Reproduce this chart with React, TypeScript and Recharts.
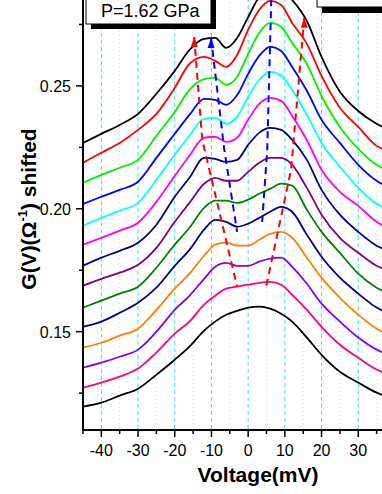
import { LineChart, Line, XAxis, YAxis, CartesianGrid } from "recharts";

const voltage = [-45, -40, -35, -30, -25, -20, -16, -12, -9, -6, -3, 0, 3, 6, 9, 12, 16, 20, 25, 30, 35, 40, 45];

// G(V) curves, shifted, listed from top to bottom
const curve01 = [0.2268, 0.2305, 0.2341, 0.2386, 0.2468, 0.2561, 0.2646, 0.2691, 0.2695, 0.2655, 0.2695, 0.278, 0.2862, 0.2898, 0.2894, 0.285, 0.2764, 0.2618, 0.2476, 0.2398, 0.2346, 0.2313, 0.2289];
const curve02 = [0.2187, 0.2228, 0.2268, 0.2321, 0.2386, 0.2492, 0.2589, 0.2618, 0.2602, 0.2577, 0.2626, 0.2728, 0.2809, 0.2846, 0.2829, 0.2756, 0.2671, 0.2541, 0.2411, 0.2333, 0.2256, 0.2228, 0.2207];
const curve03 = [0.2106, 0.2138, 0.2167, 0.2199, 0.2297, 0.2394, 0.2484, 0.2528, 0.2533, 0.2504, 0.2537, 0.263, 0.2715, 0.2756, 0.274, 0.2675, 0.2589, 0.2459, 0.2333, 0.2244, 0.2179, 0.2146, 0.2126];
const curve04 = [0.202, 0.2049, 0.2077, 0.211, 0.2207, 0.2305, 0.2382, 0.2447, 0.2443, 0.2423, 0.2463, 0.2549, 0.2622, 0.2659, 0.2642, 0.2577, 0.248, 0.2362, 0.2268, 0.2179, 0.2114, 0.2077, 0.2057];
const curve05 = [0.1931, 0.1963, 0.1992, 0.2024, 0.2118, 0.222, 0.2297, 0.2366, 0.237, 0.2346, 0.2374, 0.2455, 0.2524, 0.2557, 0.2541, 0.2484, 0.2382, 0.2268, 0.2171, 0.2085, 0.202, 0.1988, 0.1967];
const curve06 = [0.1854, 0.1882, 0.1911, 0.1943, 0.2028, 0.2134, 0.2216, 0.2289, 0.2293, 0.2272, 0.2289, 0.2362, 0.2427, 0.2451, 0.2439, 0.2378, 0.228, 0.2159, 0.2069, 0.2012, 0.1947, 0.1911, 0.189];
const curve07 = [0.1768, 0.1801, 0.1829, 0.1862, 0.1935, 0.2049, 0.2126, 0.2207, 0.2203, 0.2191, 0.2199, 0.226, 0.2309, 0.2329, 0.2321, 0.228, 0.2199, 0.2077, 0.1976, 0.1906, 0.185, 0.1821, 0.1801];
const curve08 = [0.1687, 0.1715, 0.174, 0.1772, 0.1841, 0.1947, 0.2024, 0.2102, 0.2126, 0.2114, 0.2114, 0.215, 0.2187, 0.2207, 0.2207, 0.2179, 0.2085, 0.1976, 0.1882, 0.1821, 0.1768, 0.174, 0.172];
const curve09 = [0.1598, 0.1626, 0.1655, 0.1683, 0.176, 0.1854, 0.1923, 0.2004, 0.2033, 0.2033, 0.2024, 0.2037, 0.2061, 0.2081, 0.2102, 0.2094, 0.1996, 0.1906, 0.1821, 0.1736, 0.1679, 0.1646, 0.1626];
const curve10 = [0.152, 0.1541, 0.1577, 0.1618, 0.1679, 0.1768, 0.1833, 0.1915, 0.1955, 0.1947, 0.1927, 0.1939, 0.1963, 0.1988, 0.2008, 0.1988, 0.1894, 0.1805, 0.172, 0.1655, 0.1598, 0.1565, 0.1545];
const curve11 = [0.1435, 0.1455, 0.1484, 0.1512, 0.1589, 0.1675, 0.1736, 0.1809, 0.1854, 0.1862, 0.185, 0.185, 0.1874, 0.1898, 0.1906, 0.1882, 0.1801, 0.172, 0.1638, 0.1569, 0.1512, 0.148, 0.1459];
const curve12 = [0.1354, 0.1374, 0.1398, 0.1427, 0.15, 0.1589, 0.1646, 0.1715, 0.1764, 0.178, 0.1768, 0.1768, 0.1785, 0.1797, 0.1801, 0.1764, 0.1695, 0.1614, 0.1541, 0.1476, 0.1427, 0.1398, 0.1378];
const curve13 = [0.1272, 0.1293, 0.1317, 0.135, 0.1415, 0.1492, 0.1541, 0.161, 0.1646, 0.1675, 0.1683, 0.1691, 0.1699, 0.1703, 0.1691, 0.165, 0.1589, 0.152, 0.1447, 0.1394, 0.1346, 0.1317, 0.1297];
const curve14 = [0.1195, 0.1211, 0.124, 0.1268, 0.1325, 0.1386, 0.1439, 0.1504, 0.1541, 0.1569, 0.1585, 0.1598, 0.1602, 0.1594, 0.1573, 0.1541, 0.1476, 0.1406, 0.1337, 0.1293, 0.1252, 0.1228, 0.1211];

const curves = [curve01, curve02, curve03, curve04, curve05, curve06, curve07, curve08, curve09, curve10, curve11, curve12, curve13, curve14];
const curveColors = [
  "#000000", "#ff0000", "#00f000", "#0000ff", "#00ffff", "#ff00ff", "#000080",
  "#800080", "#008000", "#00008b", "#ff8000", "#8000ff", "#ff0080", "#000000",
];

// dashed guides following the peaks (first point = arrow tip)
const leftRedV = [-14.7, -12.5, -3.0];
const leftRedG = [0.2699, 0.228, 0.1683];
const leftBlueV = [-10.1, -6.5, -3.0];
const leftBlueG = [0.2695, 0.224, 0.1906];
const rightBlueV = [6.6, 6.3, 5.2, 3.8];
const rightBlueG = [0.295, 0.285, 0.224, 0.1943];
const rightRedV = [15.3, 11.7, 4.9];
const rightRedG = [0.2777, 0.2159, 0.1683];

const xTicks = [-45, -40, -35, -30, -25, -20, -15, -10, -5, 0, 5, 10, 15, 20, 25, 30, 35, 40, 45, 50, 55];
const yTicks = [0.125, 0.15, 0.175, 0.2, 0.225, 0.25, 0.275];
const majorGrid = [-40, -30, -20, -10, 0, 10, 20, 30, 40, 50];
const minorGrid = [-35, -25, -15, -5, 5, 15, 25, 35, 45];

const FONT = "Arial, 'Liberation Sans', Helvetica, sans-serif";

const rows = voltage.map((v, i) => {
  const row: Record<string, number> = { v };
  curves.forEach((c, k) => {
    row[`c${k}`] = c[i];
  });
  return row;
});

const guide = (vs: number[], gs: number[]) => vs.map((v, i) => ({ v, g: gs[i] }));

function XTick({ x, y, payload }: any) {
  const val = payload.value;
  const major = val % 10 === 0;
  // labels past 30 mV fall outside the visible frame
  return (
    <g>
      <line x1={x} x2={x} y1={y} y2={y + (major ? 7 : 4)} stroke="#000" strokeWidth={1.5} />
      {major && val <= 30 && (
        <text x={x} y={y + 26} textAnchor="middle" fontSize={16} fontFamily={FONT} fill="#000">
          {val}
        </text>
      )}
    </g>
  );
}

function YTick({ x, y, payload }: any) {
  const val = payload.value;
  const major = Math.round(val * 1000) % 50 === 0;
  return (
    <g>
      <line x1={x - (major ? 7 : 4)} x2={x} y1={y} y2={y} stroke="#000" strokeWidth={1.5} />
      {major && (
        <text x={x - 12} y={y + 6} textAnchor="end" fontSize={16} fontFamily={FONT} fill="#000">
          {val.toFixed(2)}
        </text>
      )}
    </g>
  );
}

const arrowDot = (color: string) => (props: any) => {
  const { cx, cy, index } = props;
  if (index !== 0) return <g key={`n${index}`} />;
  return (
    <polygon
      key="tip"
      points={`${cx},${cy} ${cx - 3.5},${cy + 10} ${cx + 3.5},${cy + 10}`}
      fill={color}
    />
  );
};

export default function App() {
  return (
    <div
      style={{
        position: "absolute",
        left: 0,
        top: 0,
        width: 382,
        height: 494,
        overflow: "hidden",
        background: "#fff",
      }}
    >
      <div style={{ position: "absolute", left: 0, top: -60 }}>
        <LineChart
          width={460}
          height={570}
          data={rows}
          margin={{ top: 23, right: 10, left: 0, bottom: 20 }}
        >
          <CartesianGrid
            horizontal={false}
            verticalValues={minorGrid}
            stroke="#a6eef6"
            strokeDasharray="1 3"
          />
          <CartesianGrid
            horizontal={false}
            verticalValues={majorGrid}
            stroke="#40e0f0"
            strokeDasharray="4 3"
          />
          <XAxis
            type="number"
            dataKey="v"
            domain={[-45, 55]}
            allowDataOverflow
            ticks={xTicks}
            interval={0}
            tick={(p: any) => <XTick {...p} />}
            tickLine={false}
            tickSize={0}
            tickMargin={0}
            height={60}
            axisLine={{ stroke: "#000", strokeWidth: 2 }}
          />
          <YAxis
            type="number"
            domain={[0.11, 0.3]}
            allowDataOverflow
            ticks={yTicks}
            interval={0}
            tick={(p: any) => <YTick {...p} />}
            tickLine={false}
            tickSize={0}
            tickMargin={0}
            width={83}
            axisLine={{ stroke: "#000", strokeWidth: 2 }}
          />
          {curves.map((_, k) => (
            <Line
              key={k}
              type="monotone"
              dataKey={`c${k}`}
              stroke={curveColors[k]}
              strokeWidth={1.8}
              dot={false}
              activeDot={false}
              isAnimationActive={false}
            />
          ))}
          <Line
            data={guide(leftRedV, leftRedG)}
            dataKey="g"
            type="linear"
            stroke="#ff0000"
            strokeWidth={2}
            strokeDasharray="7 5"
            dot={arrowDot("#ff0000")}
            activeDot={false}
            isAnimationActive={false}
          />
          <Line
            data={guide(leftBlueV, leftBlueG)}
            dataKey="g"
            type="linear"
            stroke="#0000ff"
            strokeWidth={2}
            strokeDasharray="7 5"
            dot={arrowDot("#0000ff")}
            activeDot={false}
            isAnimationActive={false}
          />
          <Line
            data={guide(rightBlueV, rightBlueG)}
            dataKey="g"
            type="linear"
            stroke="#0000ff"
            strokeWidth={2}
            strokeDasharray="7 5"
            dot={false}
            activeDot={false}
            isAnimationActive={false}
          />
          <Line
            data={guide(rightRedV, rightRedG)}
            dataKey="g"
            type="linear"
            stroke="#ff0000"
            strokeWidth={2}
            strokeDasharray="7 5"
            dot={arrowDot("#ff0000")}
            activeDot={false}
            isAnimationActive={false}
          />
        </LineChart>
      </div>
      <svg
        width={382}
        height={494}
        style={{ position: "absolute", left: 0, top: 0, pointerEvents: "none" }}
      >
        {/* pressure label box with drop shadow */}
        <rect x={91} y={-10} width={125} height={39} fill="#000" />
        <rect x={86} y={-10} width={125} height={34} fill="#fff" stroke="#000" strokeWidth={1} />
        <text x={101} y={16.5} fontSize={18} fontFamily={FONT} fill="#000">
          P=1.62 GPa
        </text>
        {/* legend box, cut at the edge */}
        <rect x={322} y={-10} width={80} height={23} fill="#000" />
        <rect x={317} y={-10} width={80} height={17} fill="#fff" stroke="#000" strokeWidth={1} />
        <text
          transform="translate(36,209) rotate(-90)"
          textAnchor="middle"
          fontSize={21}
          fontWeight="bold"
          fontFamily={FONT}
          fill="#000"
        >
          G(V)(Ω<tspan dy={-9} fontSize={13}>-1</tspan>
          <tspan dy={9}>) shifted</tspan>
        </text>
        <text
          x={258}
          y={482}
          textAnchor="middle"
          fontSize={21}
          fontWeight="bold"
          fontFamily={FONT}
          fill="#000"
        >
          Voltage(mV)
        </text>
      </svg>
    </div>
  );
}
